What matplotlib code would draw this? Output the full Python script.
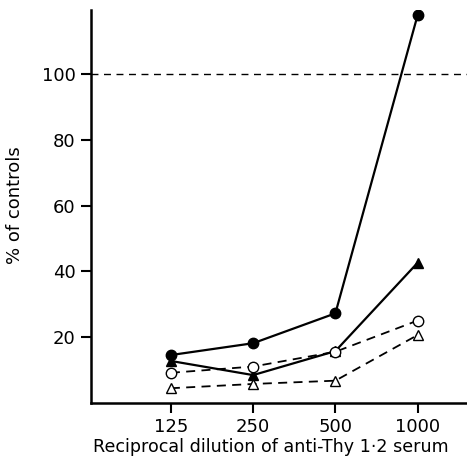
import matplotlib
matplotlib.use("Agg")
import matplotlib.pyplot as plt

categories = ["125", "250", "500", "1000"]
filled_circles = [14.5, 18.1, 27.2, 118.0]
filled_triangles = [12.7, 8.4, 15.7, 42.6]
open_circles = [9.1, 11.0, 15.5, 25.0]
open_triangles = [4.4, 5.7, 6.7, 20.6]
yticks = [20, 40, 60, 80, 100]
control_level = 100

plt.rcParams['font.family'] = ['DejaVu Sans']
fig = plt.figure(figsize=(4.67, 4.61), dpi=100)
ax = fig.add_axes([0.195, 0.1265, 0.805, 0.8515])
x = list(range(len(categories)))

ax.axhline(control_level, color='black', lw=1.0, ls=(0, (5, 4)))
ax.plot(x, filled_circles, '-o', color='black', mfc='black', ms=7.5, lw=1.6)
ax.plot(x, filled_triangles, '-^', color='black', mfc='black', ms=7.5, lw=1.6)
ax.plot(x, open_circles, '--o', color='black', mfc='white', ms=7.5, lw=1.3, dashes=(5, 3.5))
ax.plot(x, open_triangles, '--^', color='black', mfc='white', ms=7.5, lw=1.3, dashes=(5, 3.5))

ax.set_xlim(-0.97, 3.6)
ax.set_ylim(0, 119.5)
ax.set_xticks(x)
ax.set_xticklabels(categories)
ax.set_yticks(yticks)
for s in ['top', 'right']:
    ax.spines[s].set_visible(False)
for s in ['left', 'bottom']:
    ax.spines[s].set_linewidth(1.8)
ax.tick_params(axis='both', direction='out', length=7, width=1.5, labelsize=13, pad=4)
fig.text(0.032, 0.555, '% of controls', fontsize=13, rotation=90, ha='center', va='center')
fig.text(0.580, 0.030, 'Reciprocal dilution of anti-Thy 1·2 serum', fontsize=12.6, ha='center', va='center')

fig.savefig('out.png', dpi=100)
